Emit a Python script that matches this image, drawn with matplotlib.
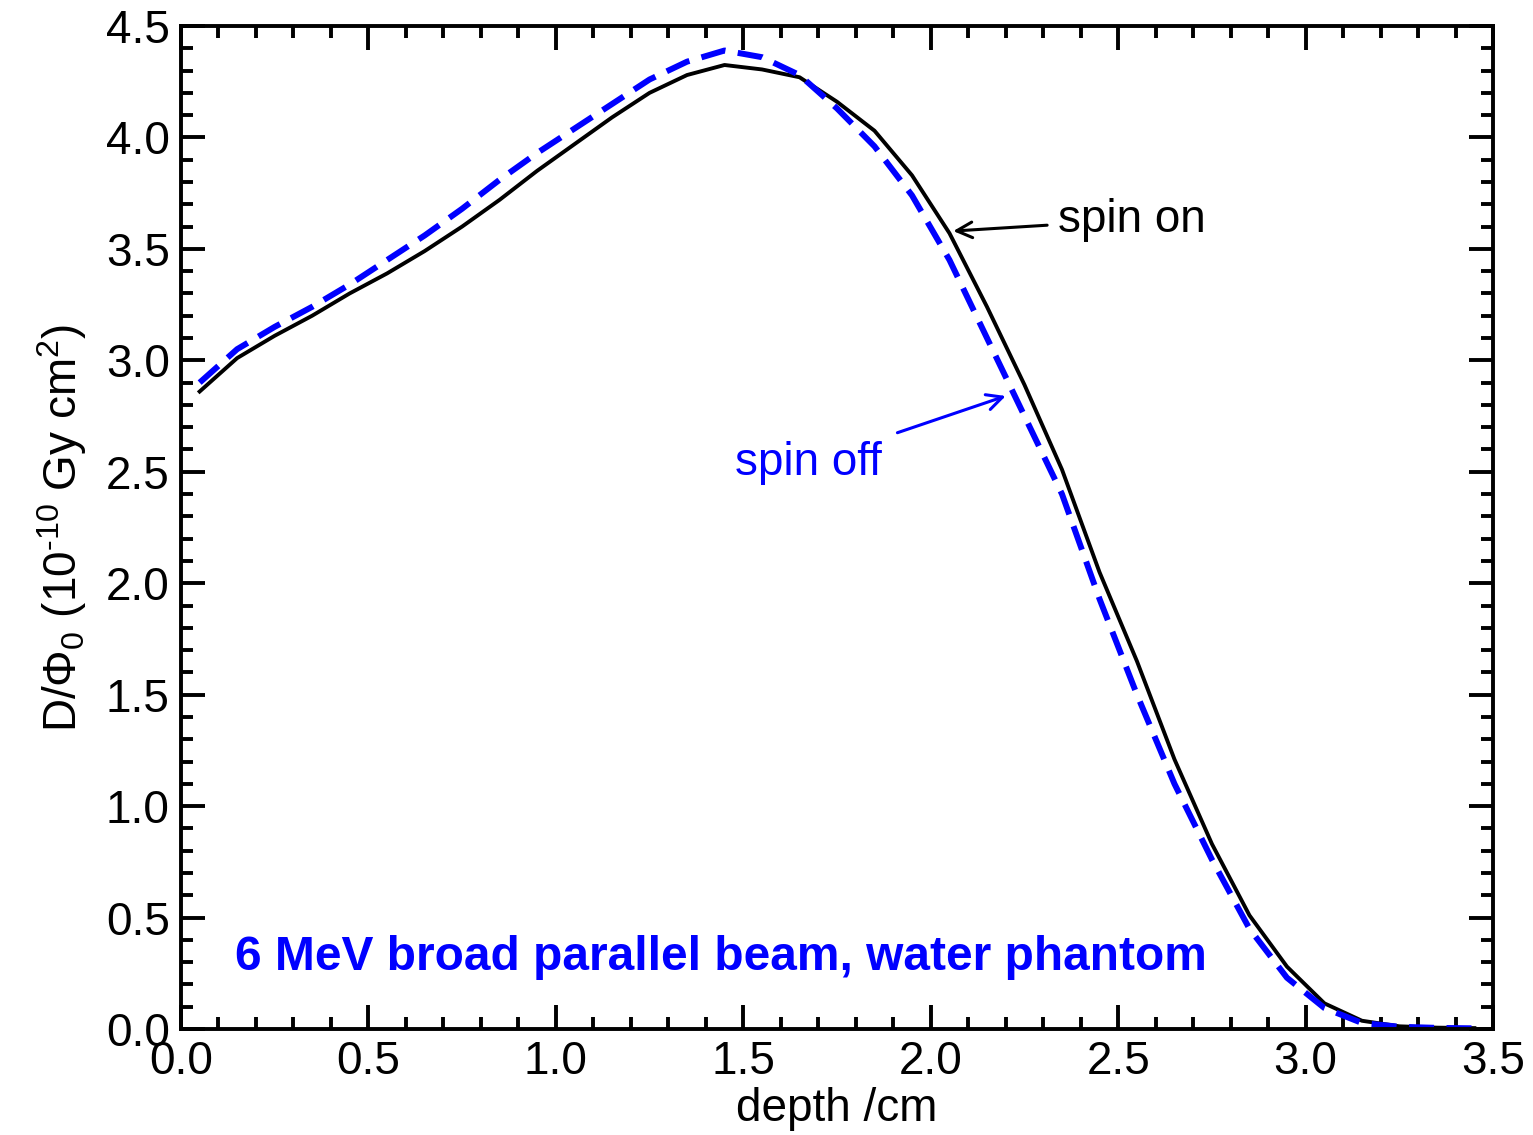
import numpy as np
import matplotlib
matplotlib.use("Agg")
import matplotlib.pyplot as plt
from matplotlib.ticker import MultipleLocator

plt.rcParams['font.family'] = ['Liberation Sans', 'DejaVu Sans']
plt.rcParams['mathtext.fontset'] = 'custom'
plt.rcParams['mathtext.rm'] = 'Liberation Sans'
plt.rcParams['mathtext.it'] = 'Liberation Sans:italic'
plt.rcParams['mathtext.bf'] = 'Liberation Sans:bold'
plt.rcParams['lines.scale_dashes'] = False

# depth bin centres (cm)
depth = [0.05, 0.15, 0.25, 0.35, 0.45, 0.55, 0.65, 0.75, 0.85, 0.95,
         1.05, 1.15, 1.25, 1.35, 1.45, 1.55, 1.65, 1.75, 1.85, 1.95,
         2.05, 2.15, 2.25, 2.35, 2.45, 2.55, 2.65, 2.75, 2.85, 2.95,
         3.05, 3.15, 3.25, 3.35, 3.45]

spin_on = [2.86, 3.01, 3.11, 3.20, 3.30, 3.39, 3.49, 3.60, 3.72, 3.85,
           3.97, 4.09, 4.20, 4.28, 4.325, 4.305, 4.27, 4.16, 4.03, 3.83,
           3.57, 3.24, 2.89, 2.51, 2.05, 1.65, 1.21, 0.83, 0.51, 0.28,
           0.115, 0.037, 0.012, 0.006, 0.004]

spin_off = [2.90, 3.05, 3.15, 3.24, 3.34, 3.45, 3.56, 3.68, 3.81, 3.93,
            4.04, 4.15, 4.26, 4.34, 4.39, 4.36, 4.28, 4.13, 3.96, 3.74,
            3.45, 3.10, 2.75, 2.40, 1.93, 1.50, 1.10, 0.76, 0.45, 0.23,
            0.094, 0.027, 0.010, 0.005, 0.003]

fig = plt.figure(figsize=(15.33, 11.35), dpi=100)
ax = fig.add_axes([0.118, 0.0934, 0.856, 0.8837])

ax.plot(depth, spin_on, color='black', lw=2.8)
ax.plot(depth, spin_off, color='#0000ff', lw=4.3, dashes=(18, 9))

ax.set_xlim(0, 3.5)
ax.set_ylim(0, 4.5)
ax.xaxis.set_major_locator(MultipleLocator(0.5))
ax.xaxis.set_minor_locator(MultipleLocator(0.1))
ax.yaxis.set_major_locator(MultipleLocator(0.5))
ax.yaxis.set_minor_locator(MultipleLocator(0.1))
ax.xaxis.set_major_formatter(plt.FormatStrFormatter('%.1f'))
ax.yaxis.set_major_formatter(plt.FormatStrFormatter('%.1f'))

ax.tick_params(which='both', direction='in', top=True, right=True,
               width=2.8, labelsize=33)
ax.tick_params(which='major', length=17, pad=8)
ax.tick_params(which='minor', length=8.5)
for s in ax.spines.values():
    s.set_linewidth(2.8)

ax.set_xlabel('depth /cm', fontsize=33, labelpad=2)
ax.set_ylabel(r'D/$\mathrm{\Phi}_0$ (10$^{\text{-10}}$ Gy cm$^2$)', fontsize=33, labelpad=12)

ax.annotate('spin on', xy=(2.06, 3.58), xytext=(2.34, 3.63),
            fontsize=33, color='black', va='center', ha='left',
            arrowprops=dict(arrowstyle='->', color='black', lw=2.2,
                            mutation_scale=28, shrinkA=6, shrinkB=0))
ax.annotate('spin off', xy=(2.20, 2.84), xytext=(1.87, 2.54),
            fontsize=33, color='#0000ff', va='center', ha='right',
            arrowprops=dict(arrowstyle='->', color='#0000ff', lw=2.2,
                            mutation_scale=28, shrinkA=12, shrinkB=0))

ax.text(0.144, 0.32, '6 MeV broad parallel beam, water phantom',
        fontsize=34.5, fontweight='bold', color='#0000ff', va='center', ha='left')

fig.savefig('out.png', dpi=100)
